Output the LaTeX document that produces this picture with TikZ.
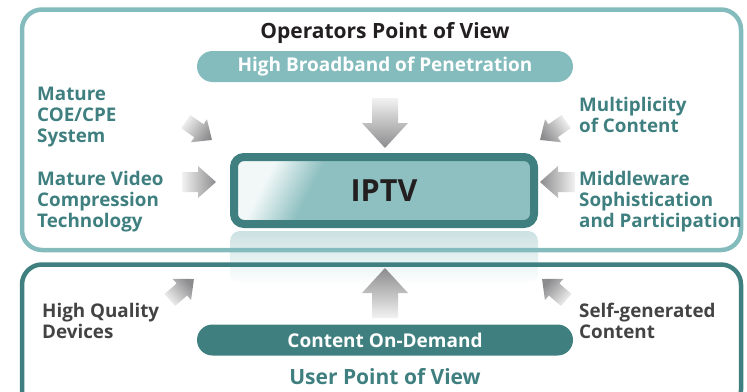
\documentclass[tikz,border=0pt]{standalone}
\usepackage{fontspec}
\setmainfont{Open Sans}
\usetikzlibrary{shapes.misc}
\definecolor{lightteal}{HTML}{84BCBE}
\definecolor{darkteal}{HTML}{3F7F7F}
\definecolor{iptvfill}{HTML}{8FC0C1}
\definecolor{iptvlight}{HTML}{F2F8F8}
\definecolor{reflect}{HTML}{CCE1E2}
\definecolor{labelgrey}{HTML}{434343}
\definecolor{titleblack}{HTML}{231F20}
\definecolor{arrowlight}{HTML}{F2F2F2}
\definecolor{arrowdark}{HTML}{8C8C8E}
\pgfdeclareverticalshading{iptvshade}{100bp}{color(0bp)=(iptvfill); color(65bp)=(iptvfill); color(75bp)=(iptvlight); color(100bp)=(iptvlight)}
% grey block arrow: tail centre (x,y), visual angle, length, shaft half, head half, head length
\newcommand\garrow[7]{%
  \shade[shift={(#1,#2)}, rotate=#3, top color=arrowdark, bottom color=arrowlight, shading angle=#3-90]
    (0,-#5) -- ({#4-#7},-#5) -- ({#4-#7},-#6) -- (#4,0) -- ({#4-#7},#6) -- ({#4-#7},#5) -- (0,#5) -- cycle;}
\begin{document}
\begin{tikzpicture}[x=1pt,y=-1pt,
  pill/.style={shape=rounded rectangle, minimum width=376pt, minimum height=31pt, inner sep=0pt,
    text=white, font=\fontsize{19}{22}\selectfont\bfseries},
  title/.style={inner sep=0pt, font=\fontsize{21}{24}\selectfont\bfseries},
  label/.style={inner sep=0pt, anchor=base west, align=left, text=darkteal,
    font=\fontsize{18.8}{21}\selectfont\bfseries},
  greylabel/.style={label, text=labelgrey}]
\useasboundingbox (0,0) rectangle (747,391);
% reflection of the IPTV box
\shade[top color=reflect, bottom color=white, rounded corners=10pt] (230,231) rectangle (538,284);
% frames
\draw[lightteal, line width=4.5pt, rounded corners=20pt] (22,9.5) rectangle (741,250);
\draw[darkteal, line width=4.5pt, rounded corners=20pt] (22,264.5) rectangle (741,410);
% titles and pills
\node[title, text=titleblack] (op) at (385,33) {Operators Point of View};
\node[pill, fill=lightteal] (hb) at (385,66.5) {High Broadband of Penetration};
\node[pill, fill=darkteal] (cod) at (385,340) {Content On-Demand};
\node[title, text=darkteal] (up) at (385,377) {User Point of View};
% IPTV
\node[draw=darkteal, line width=8pt, rounded corners=10pt, shade, shading=iptvshade, shading angle=63,
  minimum width=300pt, minimum height=67pt, text=titleblack,
  font=\fontsize{30.5}{33}\selectfont\bfseries] (iptv) at (384,190.5) {IPTV};
% labels (anchored at the baseline of the last line)
\node[label] (l1) at (37,142) {Mature\\COE/CPE\\System};
\node[label] (l2) at (37,227) {Mature Video\\Compression\\Technology};
\node[label] (r1) at (579,132) {Multiplicity\\of Content};
\node[label] (r2) at (579,227) {Middleware\\Sophistication\\and Participation};
\node[greylabel] (b1) at (42,338) {High Quality\\Devices};
\node[greylabel] (b2) at (579,338) {Self-generated\\Content};
% arrows
\garrow{385}{98}{-90}{50}{13}{23}{25}
\garrow{385}{318}{90}{50}{13}{23}{25}
\garrow{185.8}{121.6}{-35}{32}{8}{14}{16}
\garrow{566.2}{121.6}{-145}{32}{8}{14}{16}
\garrow{182}{182}{0}{34}{10}{16}{18}
\garrow{575}{182}{180}{35}{10}{16}{18}
\garrow{169.8}{300}{41}{32}{8}{14}{16}
\garrow{566.2}{300}{139}{32}{8}{14}{16}
\end{tikzpicture}
\end{document}
